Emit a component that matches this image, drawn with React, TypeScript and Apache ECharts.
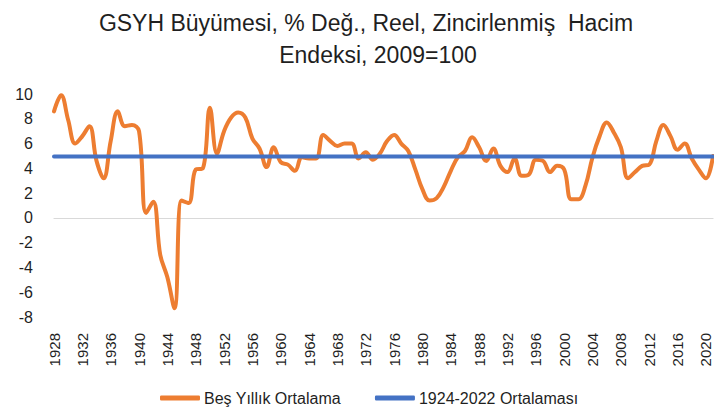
import React, { useEffect, useRef } from "react";
import * as echarts from "echarts";

const TITLE_LINE_1 = "GSYH Büyümesi, % Değ., Reel, Zincirlenmiş  Hacim";
const TITLE_LINE_2 = "Endeksi, 2009=100";

const YEARS: string[] = [];
for (let y = 1928; y <= 2021; y++) YEARS.push(String(y));

const FIVE_YEAR_AVG = [
  8.6, 9.9, 7.9, 6.0, 6.6, 7.4, 4.6, 3.2, 6.2, 8.6,
  7.4, 7.5, 7.0, 0.4, 1.3, -3.0, -4.8, -7.3, 1.4, 1.2,
  3.9, 4.0, 8.9, 5.2, 7.0, 8.1, 8.5, 8.1, 6.4, 5.6,
  4.1, 5.7, 4.5, 4.3, 3.8, 4.9, 4.8, 4.8, 6.7, 6.2,
  5.8, 6.0, 6.0, 4.8, 5.3, 4.7, 5.2, 6.2, 6.7, 6.0,
  5.4, 3.9, 2.3, 1.4, 1.6, 2.5, 3.8, 4.9, 5.4, 6.5,
  5.7, 4.6, 5.6, 4.2, 3.7, 4.8, 3.4, 3.5, 4.7, 4.6,
  3.7, 4.2, 3.9, 1.5, 1.5, 2.6, 4.9, 6.6, 7.7, 6.9,
  5.7, 3.2, 3.7, 4.2, 4.3, 6.2, 7.5, 6.6, 5.5, 6.0,
  4.8, 3.9, 3.2, 5.0,
];

const LONG_RUN_AVERAGE = 4.95;

const SERIES_NAMES = ["Beş Yıllık Ortalama", "1924-2022 Ortalaması"];
const Y_MIN = -8;
const Y_MAX = 10;
const Y_STEP = 2;

const FONT = "'Liberation Sans', Arial, sans-serif";
const TEXT = "#1f1f1f";

export default function App() {
  const ref = useRef<HTMLDivElement>(null);

  useEffect(() => {
    if (!ref.current) return;
    const chart = echarts.init(ref.current, null, { renderer: "svg" });
    chart.setOption({
      animation: false,
      backgroundColor: "#ffffff",
      textStyle: { fontFamily: FONT },
      title: [
        {
          text: TITLE_LINE_1,
          left: 361,
          top: 6,
          textAlign: "center",
          textStyle: { fontFamily: FONT, fontSize: 23, fontWeight: "normal", color: TEXT },
        },
        {
          text: TITLE_LINE_2,
          left: 373,
          top: 38,
          textAlign: "center",
          textStyle: { fontFamily: FONT, fontSize: 23, fontWeight: "normal", color: TEXT },
        },
      ],
      legend: {
        data: SERIES_NAMES,
        bottom: 3,
        left: 155,
        icon: "roundRect",
        itemWidth: 40,
        itemHeight: 5,
        itemGap: 34,
        textStyle: { fontFamily: FONT, fontSize: 16, color: TEXT, padding: [0, 0, 0, -1] },
      },
      grid: { left: 54, right: 1, top: 94, bottom: 97 },
      xAxis: [
        {
          type: "category",
          data: YEARS,
          boundaryGap: false,
          position: "bottom",
          axisLine: { show: false, onZero: false },
          axisTick: { show: false },
          axisLabel: {
            interval: 3,
            rotate: 90,
            margin: 16,
            fontSize: 15,
            fontFamily: FONT,
            color: TEXT,
          },
          splitLine: { show: false },
        },
        {
          type: "category",
          data: YEARS,
          boundaryGap: false,
          position: "bottom",
          axisLine: { show: true, onZero: true, lineStyle: { color: "#d9d9d9", width: 1.2 } },
          axisTick: { show: false },
          axisLabel: { show: false },
          splitLine: { show: false },
          z: 0,
        },
      ],
      yAxis: {
        type: "value",
        min: Y_MIN,
        max: Y_MAX,
        interval: Y_STEP,
        axisLine: { show: false },
        axisTick: { show: false },
        splitLine: { show: false },
        axisLabel: { margin: 21, fontSize: 16, fontFamily: FONT, color: TEXT },
      },
      series: [
        {
          name: SERIES_NAMES[0],
          type: "line",
          xAxisIndex: 0,
          data: FIVE_YEAR_AVG,
          smooth: 0.4,
          showSymbol: false,
          symbol: "none",
          z: 3,
          lineStyle: { color: "#ED7D31", width: 4, cap: "round", join: "round" },
          itemStyle: { color: "#ED7D31" },
        },
        {
          name: SERIES_NAMES[1],
          type: "line",
          xAxisIndex: 0,
          data: YEARS.map(() => LONG_RUN_AVERAGE),
          showSymbol: false,
          symbol: "none",
          z: 4,
          lineStyle: { color: "#4472C4", width: 4, cap: "round" },
          itemStyle: { color: "#4472C4" },
        },
      ],
    });
    return () => chart.dispose();
  }, []);

  return <div ref={ref} style={{ width: 714, height: 414, position: "absolute", left: 0, top: 0 }} />;
}
